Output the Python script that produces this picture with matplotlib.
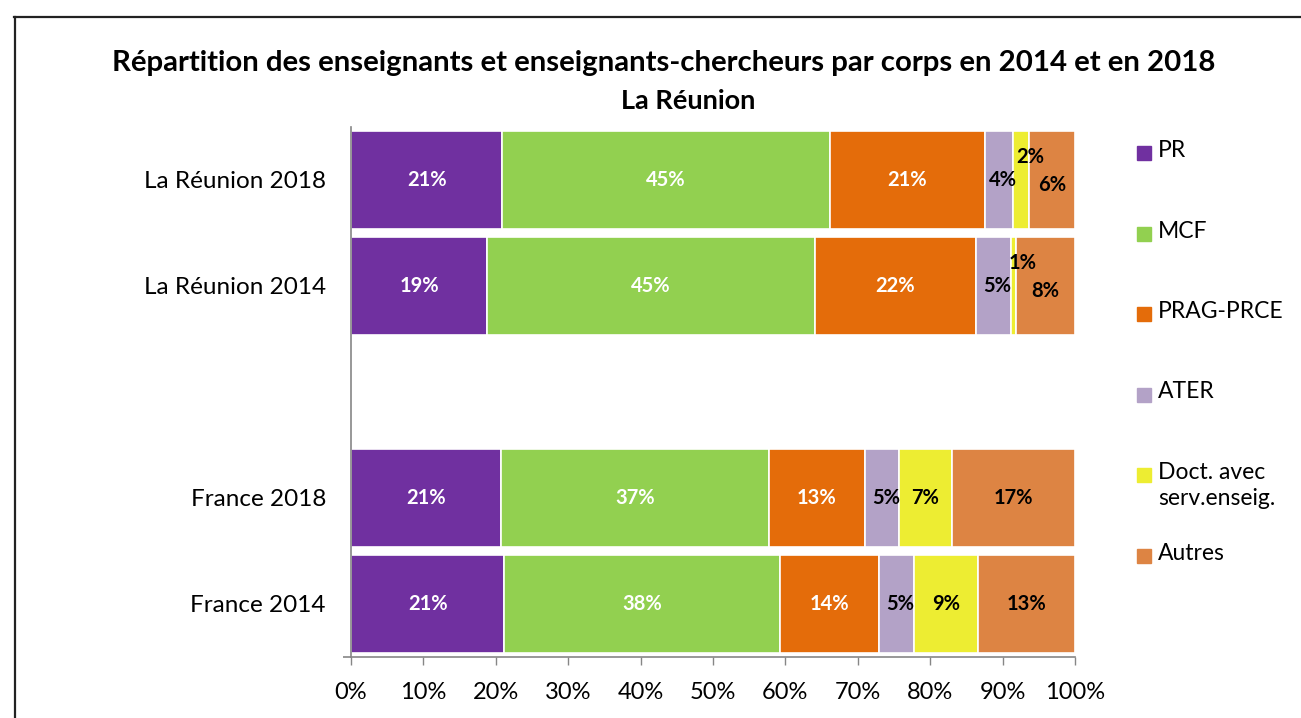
import numpy as np
import matplotlib.pyplot as plt
from matplotlib.patches import Rectangle
from matplotlib.lines import Line2D

plt.rcParams['font.family'] = ['Lato', 'DejaVu Sans']

# categories (the empty one makes the gap between the two groups)
categories = ['La Réunion 2018', 'La Réunion 2014', '', 'France 2018', 'France 2014']
series = ['PR', 'MCF', 'PRAG-PRCE', 'ATER', 'Doct. avec\nserv.enseig.', 'Autres']

# shares in % per category, in the order of the series
pr     = [20.9, 18.8, 0, 20.7, 21.2]
mcf    = [45.2, 45.3, 0, 37.0, 38.0]
prag   = [21.4, 22.2, 0, 13.3, 13.7]
ater   = [3.9, 4.8, 0, 4.7, 4.8]
doct   = [2.3, 0.8, 0, 7.3, 8.9]
autres = [6.3, 8.1, 0, 17.0, 13.4]

couleurs = ['#7030A0', '#92D050', '#E46C0A', '#B3A2C7', '#EDED32', '#DD8443']
couleurs_texte = ['white', 'white', 'white', 'black', 'black', 'black']

donnees = [pr, mcf, prag, ater, doct, autres]

fig = plt.figure(figsize=(13.01, 7.18), dpi=100)
ax = fig.add_axes([351/1301, 1 - 657/718, (1075 - 351)/1301, (657 - 127)/718])

y = np.arange(len(categories))
gauche = np.zeros(len(categories))
for i, valeurs in enumerate(donnees):
    valeurs = np.array(valeurs, dtype=float)
    ax.barh(y, valeurs, left=gauche, height=0.93, color=couleurs[i],
            edgecolor='white', linewidth=1.2)
    for j, v in enumerate(valeurs):
        if v <= 0:
            continue
        xt = gauche[j] + v / 2
        yt = y[j]
        # petits segments : étiquette décalée comme dans Excel
        if v < 3:
            xt = gauche[j] + v / 2 + 1.3
            yt = y[j] - 0.22
        elif i == 5 and donnees[4][j] < 3:
            yt = y[j] + 0.05
        elif i == 3:
            xt += 0.6
        ax.text(xt, yt, f'{v:.0f}%', ha='center', va='center',
                fontsize=14.5, fontweight='bold', color=couleurs_texte[i])
    gauche += valeurs

ax.set_xlim(0, 100)
ax.set_ylim(len(categories) - 0.5, -0.5)
ax.set_xticks(np.arange(0, 101, 10))
ax.set_xticklabels([f'{t}%' for t in range(0, 101, 10)], fontsize=17)
ax.set_yticks(y)
ax.set_yticklabels(categories, fontsize=17.5)
# petit prolongement de l'axe x vers la gauche
ax.set_yticks([len(categories) - 0.5], minor=True)
ax.tick_params(axis='y', which='major', length=0, pad=18)
ax.tick_params(axis='y', which='minor', length=6, color='#868686', width=1.2)
ax.tick_params(axis='x', length=6, color='#868686', width=1, pad=12)

for s in ['top', 'right']:
    ax.spines[s].set_visible(False)
for s in ['left', 'bottom']:
    ax.spines[s].set_color('#868686')
    ax.spines[s].set_linewidth(1.2)

# titre
fig.text(664/1301, 1 - 63/718, 'Répartition des enseignants et enseignants-chercheurs par corps en 2014 et en 2018',
         ha='center', va='center', fontsize=21.2, fontweight='bold')
fig.text(688/1301, 1 - 101/718, 'La Réunion', ha='center', va='center',
         fontsize=19.5, fontweight='bold')

# légende à droite
for i, nom in enumerate(series):
    yc = 153 + i * 80.5
    fig.patches.append(Rectangle((1137/1301, 1 - (yc + 7)/718), 14/1301, 14/718,
                                 transform=fig.transFigure, color=couleurs[i]))
    fig.text(1158/1301, 1 - (yc - 13)/718, nom, ha='left', va='top',
             fontsize=16.5, linespacing=1.3)

# cadre de l'image
fig.add_artist(Line2D([14/1301, 1], [1 - 17/718, 1 - 17/718], transform=fig.transFigure,
                      color='#222222', linewidth=1.6))
fig.add_artist(Line2D([15/1301, 15/1301], [0, 1 - 17/718], transform=fig.transFigure,
                      color='#222222', linewidth=1.6))

fig.savefig('out.png', dpi=100)
